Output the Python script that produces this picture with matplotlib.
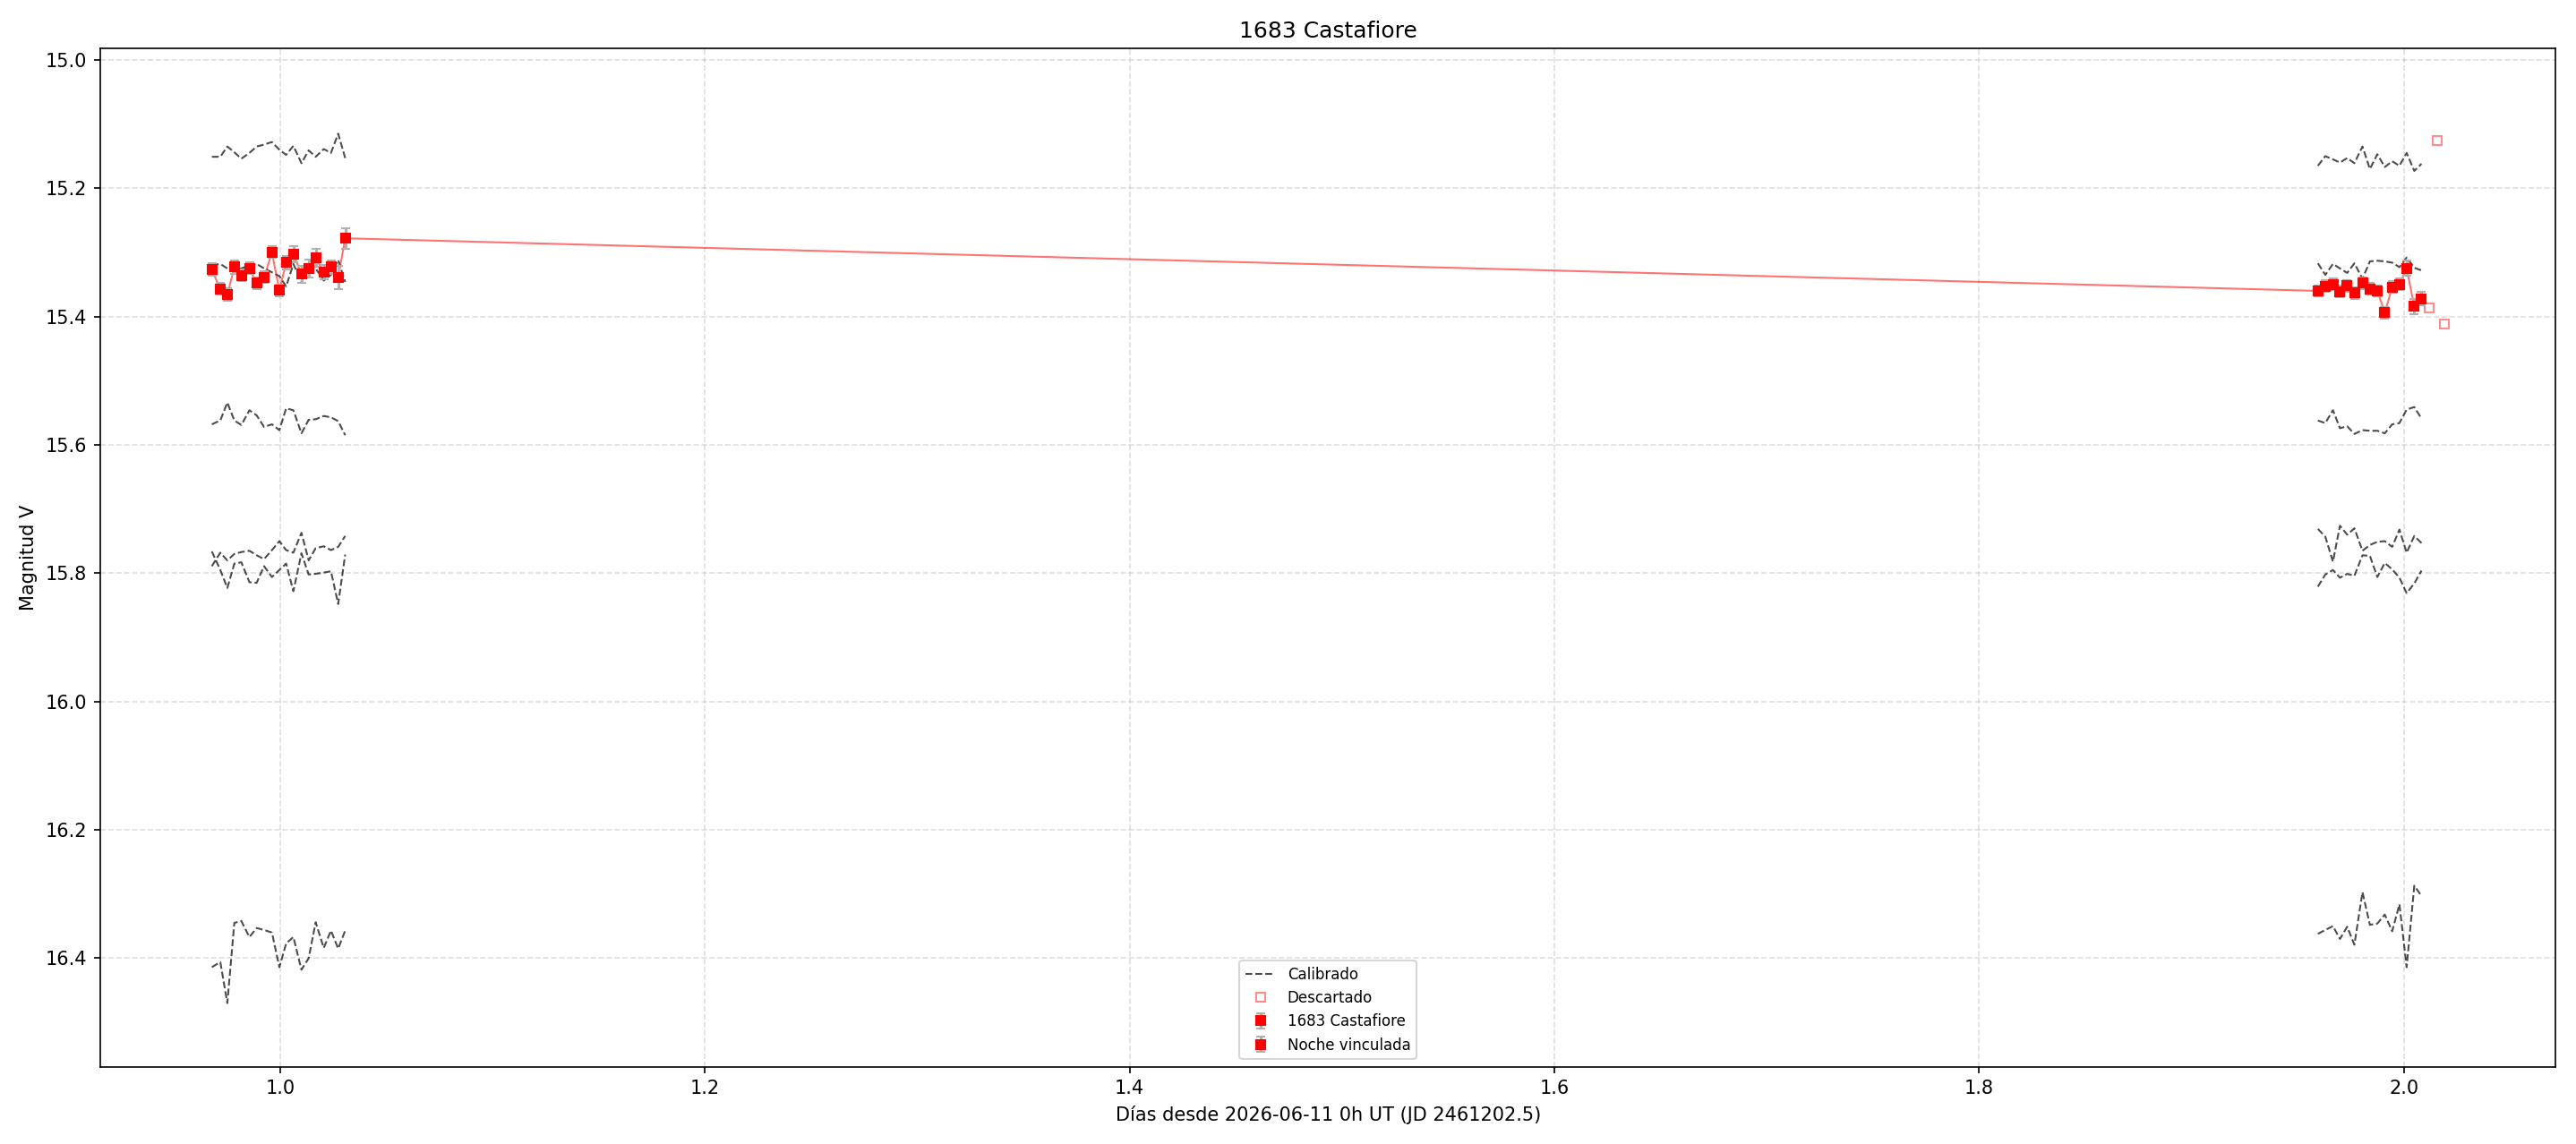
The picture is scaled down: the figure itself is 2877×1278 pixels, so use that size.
import matplotlib
matplotlib.use("Agg")
import matplotlib.pyplot as plt

# Tiempos (días desde 2026-06-11 0h UT)
t_noche1 = [0.9678, 0.9718, 0.9751, 0.9784, 0.9817, 0.9855, 0.9889, 0.9924, 0.9961, 0.9996,
            1.0028, 1.0062, 1.0100, 1.0134, 1.0167, 1.0205, 1.0239, 1.0273, 1.0306]
t_noche2 = [1.9595, 1.9630, 1.9666, 1.9699, 1.9733, 1.9767, 1.9805, 1.9840, 1.9875, 1.9910,
            1.9945, 1.9979, 2.0013, 2.0049, 2.0083]

# Asteroide
mag_noche1 = [15.327, 15.357, 15.366, 15.323, 15.336, 15.325, 15.348, 15.339, 15.300, 15.359,
              15.316, 15.303, 15.334, 15.325, 15.309, 15.331, 15.323, 15.339, 15.278]
err_noche1 = [0.010, 0.009, 0.010, 0.010, 0.009, 0.009, 0.009, 0.009, 0.009, 0.009,
              0.010, 0.013, 0.013, 0.014, 0.014, 0.011, 0.010, 0.018, 0.016]
mag_noche2 = [15.360, 15.353, 15.350, 15.361, 15.352, 15.363, 15.348, 15.357, 15.360, 15.394,
              15.354, 15.350, 15.325, 15.384, 15.372]
err_noche2 = [0.009, 0.009, 0.009, 0.009, 0.009, 0.009, 0.009, 0.009, 0.009, 0.009,
              0.009, 0.009, 0.012, 0.012, 0.011]

# Puntos descartados
t_desc = [2.0117, 2.0155, 2.0190]
mag_desc = [15.387, 15.126, 15.411]

# Estrellas de comparación calibradas
comp_noche1 = [
    [15.151, 15.151, 15.135, 15.144, 15.154, 15.145, 15.135, 15.132, 15.128, 15.140,
     15.148, 15.134, 15.161, 15.141, 15.151, 15.139, 15.145, 15.115, 15.153],
    [15.320, 15.318, 15.325, 15.329, 15.325, 15.320, 15.318, 15.325, 15.331, 15.337,
     15.353, 15.318, 15.346, 15.318, 15.325, 15.344, 15.335, 15.312, 15.346],
    [15.568, 15.562, 15.534, 15.562, 15.569, 15.546, 15.554, 15.572, 15.568, 15.577,
     15.543, 15.546, 15.582, 15.561, 15.560, 15.555, 15.557, 15.563, 15.585],
    [15.789, 15.768, 15.780, 15.770, 15.767, 15.765, 15.772, 15.778, 15.764, 15.750,
     15.764, 15.768, 15.737, 15.780, 15.761, 15.758, 15.764, 15.759, 15.742],
    [15.766, 15.795, 15.823, 15.785, 15.783, 15.814, 15.815, 15.789, 15.806, 15.795,
     15.785, 15.828, 15.769, 15.802, 15.801, 15.799, 15.797, 15.848, 15.771],
    [16.414, 16.406, 16.470, 16.345, 16.342, 16.367, 16.353, 16.356, 16.360, 16.414,
     16.377, 16.367, 16.418, 16.400, 16.344, 16.384, 16.357, 16.385, 16.357],
]
comp_noche2 = [
    [15.165, 15.150, 15.155, 15.160, 15.153, 15.161, 15.135, 15.170, 15.147, 15.167,
     15.158, 15.165, 15.145, 15.173, 15.162],
    [15.317, 15.335, 15.318, 15.325, 15.332, 15.317, 15.341, 15.314, 15.313, 15.314,
     15.316, 15.323, 15.308, 15.324, 15.328],
    [15.562, 15.566, 15.546, 15.574, 15.571, 15.583, 15.577, 15.578, 15.578, 15.582,
     15.568, 15.566, 15.545, 15.541, 15.559],
    [15.731, 15.743, 15.782, 15.726, 15.740, 15.730, 15.765, 15.756, 15.751, 15.750,
     15.759, 15.732, 15.768, 15.742, 15.753],
    [15.821, 15.802, 15.795, 15.807, 15.801, 15.804, 15.772, 15.773, 15.806, 15.784,
     15.794, 15.807, 15.831, 15.816, 15.796],
    [16.362, 16.356, 16.350, 16.370, 16.351, 16.379, 16.297, 16.348, 16.346, 16.332,
     16.358, 16.316, 16.414, 16.287, 16.303],
]

fig, ax = plt.subplots(figsize=(19.18, 8.52), dpi=150)

# Comparaciones (una línea por noche, sin unir noches)
primera = True
for comp in comp_noche1:
    ax.plot(t_noche1, comp, ls="--", color="k", alpha=0.7, lw=1,
            label="Calibrado" if primera else None)
    primera = False
for comp in comp_noche2:
    ax.plot(t_noche2, comp, ls="--", color="k", alpha=0.7, lw=1)

ax.plot(t_desc, mag_desc, ls="none", marker="s", mfc="none", mec="red",
        alpha=0.45, ms=4.5, label="Descartado")

# Serie completa del asteroide (une ambas noches)
ax.errorbar(t_noche1 + t_noche2, mag_noche1 + mag_noche2, yerr=err_noche1 + err_noche2,
            fmt="s", ms=4.5, color="red", ecolor="#b0b0b0", elinewidth=1.5, capsize=2.5,
            label="1683 Castafiore", zorder=3)
ax.plot(t_noche1 + t_noche2, mag_noche1 + mag_noche2, color="red", alpha=0.55, lw=1, zorder=2)

# Noche vinculada
ax.errorbar(t_noche2, mag_noche2, yerr=err_noche2,
            fmt="s", ms=4.5, color="red", ecolor="#b0b0b0", elinewidth=1.5, capsize=2.5,
            label="Noche vinculada", zorder=4)

ax.set_ylim(16.569, 14.982)
ax.set_xlabel("Días desde 2026-06-11 0h UT (JD 2461202.5)")
ax.set_ylabel("Magnitud V")
ax.set_title("1683 Castafiore")
ax.grid(True, ls="--", alpha=0.4)
ax.legend(loc="lower center", fontsize=8)

fig.tight_layout()
fig.savefig("out.png", dpi=150)
plt.close(fig)
